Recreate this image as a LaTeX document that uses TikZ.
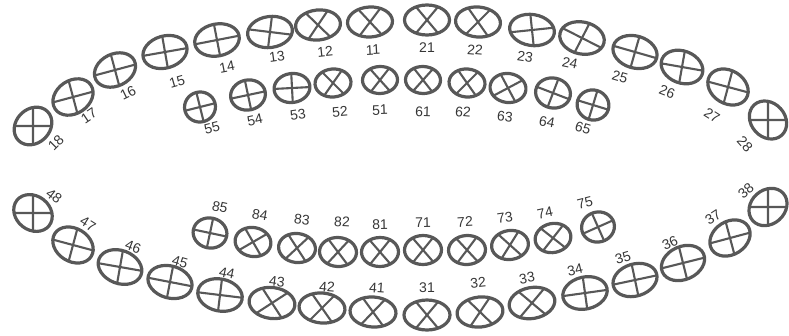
\documentclass[tikz,border=0pt]{standalone}
\usepackage{fontspec}
\setmainfont{Liberation Sans}
\usetikzlibrary{shapes.geometric}
\definecolor{toothgray}{HTML}{585858}
\definecolor{labgray}{HTML}{363636}
\tikzset{
  tooth/.style={ellipse, draw=toothgray, line width=3.2pt, inner sep=0pt, outer sep=0pt},
  crossline/.style={draw=toothgray, line width=2.1pt},
  lab/.style={inner sep=0pt, text=labgray, font=\fontsize{14}{14}\selectfont}
}
\begin{document}
\begin{tikzpicture}[x=1pt,y=-1pt]
\useasboundingbox (0,0) rectangle (789,335);
\foreach \n/\x/\y/\a/\rx/\ry/\ca/\cb/\lx/\ly
 [evaluate=\rx as \mw using 2*\rx+1,
  evaluate=\ry as \mh using 2*\ry,
  evaluate=\ca as \caa using {int(mod(\ca+360,360))},
  evaluate=\ca as \cca using {int(mod(\ca+540,360))},
  evaluate=\cb as \cbb using {int(mod(\cb+360,360))},
  evaluate=\cb as \ccb using {int(mod(\cb+540,360))}] in {
 18/33/126/45/20/17/-45/45/56/143,
 17/73/97/34/21/16.5/-19/71/89/116,
 16/115/70/26/21/16/-11/79/128/93,
 15/165/52/16/22/16/-6/84/177/82,
 14/217/40/11/22/16/0/90/227/67,
 13/270/32/8/22/15.5/-15/75/277/57,
 12/318/25/6/22/15/50/130/325/52,
 11/370/22/3/22/15/50/130/373/50,
 21/427/20/0/22/15/50/130/427/48,
 22/478/22/-5/22/15/50/130/475/50,
 23/532/30/-9/22/15.5/15/105/525/57,
 24/582/38/-12/22/16/-15/75/570/63,
 25/635/52/-16/22/16/0/90/620/77,
 26/682/67/-21/21/16/11/101/667/92,
 27/728/87/-32/21/16.5/17/107/712/115,
 28/768/120/-48/20/17/48/138/745/144,
 55/200/107/14/15/15/0/90/212/128,
 54/248/95/12/17/15/0/90/255/120,
 53/292/88/8/17.5/14.5/-5/85/298/115,
 52/333/83/5/17.5/14/50/130/340/112,
 51/380/80/2/17/13.5/50/130/380/110,
 61/423/80/-2/17/13.5/50/130/423/112,
 62/467/83/-5/17.5/14/50/130/463/112,
 63/508/88/-7/17.5/14.5/35/125/505/117,
 64/553/93/-11/17/15/-10/80/547/122,
 65/593/105/-17/15.5/15/0/90/583/128,
 85/210/233/-12/16.5/15/0/90/220/207,
 84/253/242/-10/17.5/14.5/40/130/260/215,
 83/297/248/-7/18/14.5/50/130/302/220,
 82/338/252/-3/18/14.5/50/130/342/222,
 81/380/252/1/18/14.5/50/130/380/225,
 71/423/250/1/18/14.5/50/130/423/223,
 72/467/250/3/18/14.5/50/130/465/222,
 73/510/245/8/18/14.5/50/130/505/218,
 74/553/238/12/17.5/14.5/40/130/545/213,
 75/598/227/14/16/15/10/100/585/203,
 48/33/213/-38/20/17/38/128/54/196,
 47/73/245/-32/21/16.5/17/107/88/224,
 46/120/267/-21/22/16.5/11/101/133/247,
 45/170/282/-16/22/16/5/95/180/262,
 44/220/295/-12/22/16/5/95/227/273,
 43/272/303/-7/22.5/15.5/40/130/277/282,
 42/322/308/-5/22.5/15/50/130/327/287,
 41/373/312/-4/22.5/15/50/130/377/288,
 31/427/315/0/22.5/15/50/130/427/288,
 32/480/312/6/22.5/15/50/130/478/283,
 33/532/303/10/22.5/15.5/40/130/527/278,
 34/585/293/13/22/16/-5/85/575/270,
 35/635/280/17/22/16/-5/85/623/258,
 36/683/263/24/22/16.5/-10/80/670/243,
 37/730/238/33/21/16.5/-18/72/713/217,
 38/768/207/42/20/17/-42/48/746/191} {
  \node[tooth, minimum width=\mw pt, minimum height=\mh pt, rotate=\a] (t\n) at (\x,\y) {};
  \draw[crossline] (t\n.\caa) -- (t\n.\cca);
  \draw[crossline] (t\n.\cbb) -- (t\n.\ccb);
  \node[lab, rotate=\a] (l\n) at (\lx,\ly) {\n};
}
\end{tikzpicture}
\end{document}
